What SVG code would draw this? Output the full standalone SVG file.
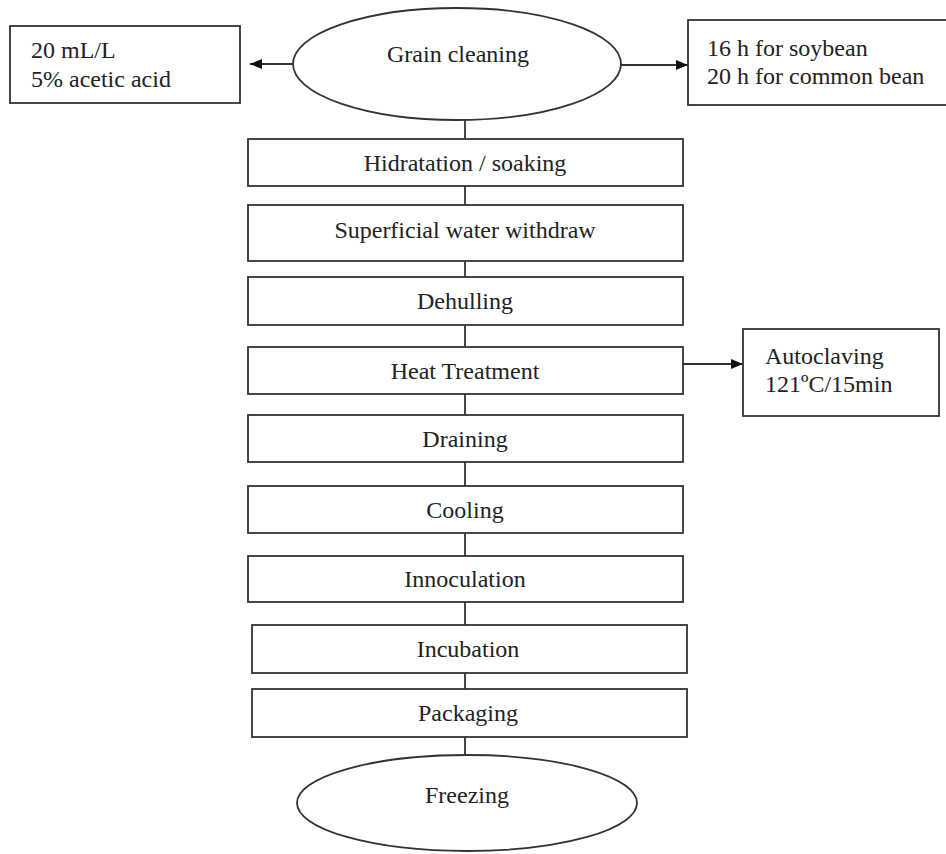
<svg xmlns="http://www.w3.org/2000/svg" width="946" height="854" viewBox="0 0 946 854">
<style>
.box{fill:#fff;stroke:#333;stroke-width:1.8}
.t{font-family:"Liberation Serif","Times New Roman",serif;font-size:24px;fill:#222}
.c{text-anchor:middle}
.ln{stroke:#333;stroke-width:1.8;fill:none}
</style>
<defs>
<marker id="ah" viewBox="0 0 12 10" refX="12" refY="5" markerWidth="12" markerHeight="10" markerUnits="userSpaceOnUse" orient="auto">
<path d="M0,0 L12,5 L0,10 z" fill="#111"/>
</marker>
</defs>
<rect width="946" height="854" fill="#fff"/>
<g id="connectors">
<line class="ln" x1="465" y1="120" x2="465" y2="139"/>
<line class="ln" x1="465" y1="186" x2="465" y2="205"/>
<line class="ln" x1="465" y1="261" x2="465" y2="277"/>
<line class="ln" x1="465" y1="325" x2="465" y2="347"/>
<line class="ln" x1="465" y1="394" x2="465" y2="415"/>
<line class="ln" x1="465" y1="462" x2="465" y2="486"/>
<line class="ln" x1="465" y1="533" x2="465" y2="556"/>
<line class="ln" x1="465" y1="602" x2="465" y2="625"/>
<line class="ln" x1="465" y1="673" x2="465" y2="689"/>
<line class="ln" x1="465" y1="737" x2="465" y2="755"/>
<line class="ln" x1="293" y1="64" x2="250" y2="64" marker-end="url(#ah)"/>
<line class="ln" x1="621" y1="65" x2="688" y2="65" marker-end="url(#ah)"/>
<line class="ln" x1="683" y1="364" x2="743" y2="364" marker-end="url(#ah)"/>
</g>
<g id="grain-cleaning">
<ellipse class="box" cx="457" cy="64" rx="164" ry="56"/>
<text class="t c" x="458" y="62">Grain cleaning</text>
</g>
<g id="acetic">
<rect class="box" x="10" y="26" width="230" height="77"/>
<text class="t" x="31" y="58">20 mL/L</text>
<text class="t" x="31" y="87">5% acetic acid</text>
</g>
<g id="soak-time">
<rect class="box" x="688" y="20" width="262" height="85"/>
<text class="t" x="707" y="56">16 h for soybean</text>
<text class="t" x="707" y="84">20 h for common bean</text>
</g>
<g id="hidratation">
<rect class="box" x="248" y="139" width="435" height="47"/>
<text class="t c" x="465" y="171">Hidratation / soaking</text>
</g>
<g id="superficial">
<rect class="box" x="248" y="205" width="435" height="56"/>
<text class="t c" x="465" y="238">Superficial water withdraw</text>
</g>
<g id="dehulling">
<rect class="box" x="248" y="277" width="435" height="48"/>
<text class="t c" x="465" y="309">Dehulling</text>
</g>
<g id="heat-treatment">
<rect class="box" x="248" y="347" width="435" height="47"/>
<text class="t c" x="465" y="379">Heat Treatment</text>
</g>
<g id="autoclaving">
<rect class="box" x="743" y="329" width="196" height="87"/>
<text class="t" x="765" y="364">Autoclaving</text>
<text class="t" x="765" y="392">121ºC/15min</text>
</g>
<g id="draining">
<rect class="box" x="248" y="415" width="435" height="47"/>
<text class="t c" x="465" y="447">Draining</text>
</g>
<g id="cooling">
<rect class="box" x="248" y="486" width="435" height="47"/>
<text class="t c" x="465" y="518">Cooling</text>
</g>
<g id="innoculation">
<rect class="box" x="248" y="556" width="435" height="46"/>
<text class="t c" x="465" y="587">Innoculation</text>
</g>
<g id="incubation">
<rect class="box" x="252" y="625" width="435" height="48"/>
<text class="t c" x="468" y="657">Incubation</text>
</g>
<g id="packaging">
<rect class="box" x="252" y="689" width="435" height="48"/>
<text class="t c" x="468" y="721">Packaging</text>
</g>
<g id="freezing">
<ellipse class="box" cx="467" cy="803" rx="170" ry="48"/>
<text class="t c" x="467" y="803">Freezing</text>
</g>
</svg>
